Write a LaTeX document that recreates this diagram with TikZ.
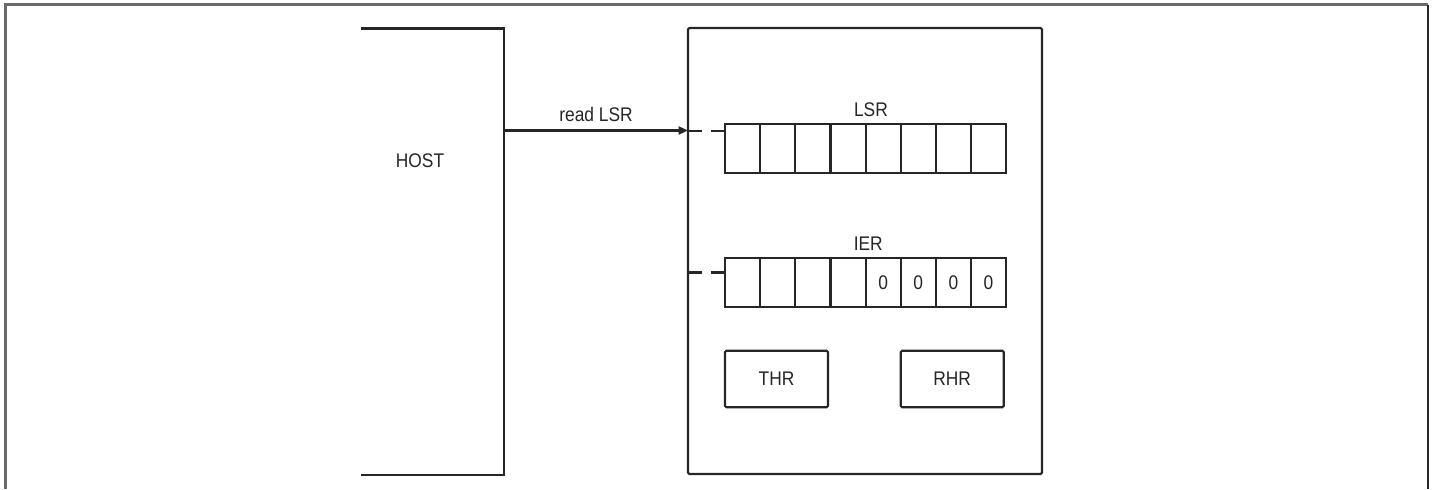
\documentclass[tikz,border=0pt]{standalone}
\usepackage{fontspec}
\setmainfont{Liberation Sans}[FakeStretch=0.88]
\usepackage{tikz}
\usetikzlibrary{arrows.meta,positioning}
\definecolor{ink}{HTML}{262626}
\definecolor{rim}{HTML}{6A6A6A}
\tikzstyle{cell}=[draw=ink, line width=1.6pt, minimum width=26.35pt, minimum height=36.6pt, inner sep=0pt, outer sep=0pt]
\tikzstyle{blk}=[draw=ink, line width=1.6pt, rounded corners=1pt, minimum width=77.25pt, minimum height=42.4pt, inner sep=0pt, outer sep=0pt]
\tikzstyle{lbl}=[inner sep=0pt]
\tikzstyle{stub}=[line width=1.6pt, dash pattern=on 10.5pt off 6.75pt]
\begin{document}
\begin{tikzpicture}
 [x=0.75pt, y=-0.75pt, line width=1.6pt, color=ink,
  every node/.style={font=\fontsize{14.8pt}{17pt}\selectfont, text=ink}]
 \useasboundingbox (0,0) rectangle (1433,489);
 % outer frame
 \draw[rim, line width=1.8pt] (5.5,489) -- (5.5,4.5) -- (1428,4.5);
 \draw (1428,4.5) -- (1428,489);
 % host side
 \draw (361,28.5) -- (504,28.5) -- (504,475) -- (361,475);
 \node (HOST) at (420,161) {HOST};
 \coordinate (hostout) at (504,130.5);
 % uart
 \node[blk, minimum width=265.5pt, minimum height=334.5pt] (UART) at (865,251) {};
 \node[cell] (LSR0) at (742.6,148.4) {};
 \foreach \i [count=\j] in {0,...,6}
   \node[cell, right=0pt of LSR\i] (LSR\j) {};
 \node[cell] (IER0) at (742.6,282.2) {};
 \foreach \i [count=\j] in {0,...,6}
   \node[cell, right=0pt of IER\i] (IER\j) {};
 \foreach \i in {4,...,7}
   \node at ([yshift=-0.5pt]IER\i) {0};
 \node[lbl, above=5pt of LSR3.north east, xshift=4pt] (LSRname) {LSR};
 \node[lbl, above=5pt of IER3.north east, xshift=2pt] (IERname) {IER};
 \node[blk] (THR) at (776.5,379) {THR};
 \node[blk] (RHR) at (952.2,379) {RHR};
 % access
 \coordinate (lsrin) at ([yshift=-5pt]LSR0.north west);
 \coordinate (ierin) at ([yshift=-11pt]IER0.north west);
 \draw[-{Triangle[length=7pt,width=6pt]}] (hostout) -- (UART.west |- hostout)
   node[lbl, midway, above=6pt] (rd) {read LSR};
 \draw[stub] (UART.west |- lsrin) -- (lsrin);
 \draw[stub] (UART.west |- ierin) -- (ierin);
\end{tikzpicture}
\end{document}
